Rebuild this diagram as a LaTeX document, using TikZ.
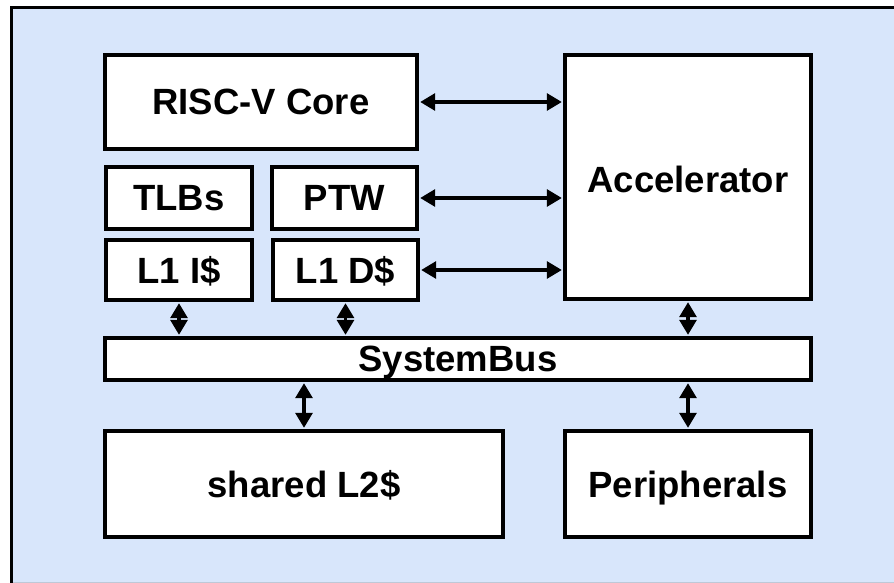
\documentclass[tikz,border=0pt]{standalone}
\usepackage{fontspec}
\setmainfont{Liberation Sans}
\usetikzlibrary{arrows.meta}
\definecolor{panelblue}{RGB}{216,230,251}
\definecolor{edgegray}{RGB}{190,200,215}
\tikzset{
  blk/.style={draw=black, fill=white, line width=3.4pt, inner sep=0pt, text depth=0pt,
    font=\fontsize{36.5}{40}\selectfont\bfseries},
  link/.style={line width=3.2pt, {Triangle[length=15pt,width=17pt]}-{Triangle[length=15pt,width=17pt]},
    shorten <=1.5pt, shorten >=1.5pt}
}
\begin{document}
\begin{tikzpicture}[x=1pt,y=-1pt]
  \useasboundingbox (0,0) rectangle (894,583);
  % background panel (open on the right and bottom)
  \fill[panelblue] (11.5,7.5) rectangle (894,583);
  \draw[line width=3.8pt, line cap=rect] (11.5,583) -- (11.5,7.5) -- (894,7.5);
  \draw[edgegray, line width=1pt] (13,582.5) -- (894,582.5);

  % blocks
  \node[blk, minimum width=312pt, minimum height=94pt]  (core)  at (261,102)   {RISC-V Core};
  \node[blk, minimum width=246pt, minimum height=244pt] (accel) at (688,177)   {\raisebox{-5pt}{Accelerator}};
  \node[blk, minimum width=146pt, minimum height=62pt]  (tlb)   at (179,198)   {TLBs};
  \node[blk, minimum width=145pt, minimum height=62pt]  (ptw)   at (344.5,198) {PTW};
  \node[blk, minimum width=146pt, minimum height=60pt]  (l1i)   at (179,270)   {L1 I\$};
  \node[blk, minimum width=145pt, minimum height=60pt]  (l1d)   at (345.5,270) {L1 D\$};
  \node[blk, minimum width=706pt, minimum height=42pt]  (bus)   at (458,359)   {SystemBus};
  \node[blk, minimum width=398pt, minimum height=106pt] (l2)    at (304,484)   {shared L2\$};
  \node[blk, minimum width=246pt, minimum height=106pt] (peri)  at (688,484)   {Peripherals};

  % links to the accelerator
  \draw[link] (core.east) -- (core.east -| accel.west);
  \draw[link] (ptw.east)  -- (ptw.east -| accel.west);
  \draw[link] (l1d.east)  -- (l1d.east -| accel.west);

  % links to the system bus
  \draw[link] (l1i.south)   -- (l1i.south |- bus.north);
  \draw[link] (l1d.south)   -- (l1d.south |- bus.north);
  \draw[link] (accel.south) -- (accel.south |- bus.north);
  \draw[link] (bus.south -| l2.north)   -- (l2.north);
  \draw[link] (bus.south -| peri.north) -- (peri.north);
\end{tikzpicture}
\end{document}
